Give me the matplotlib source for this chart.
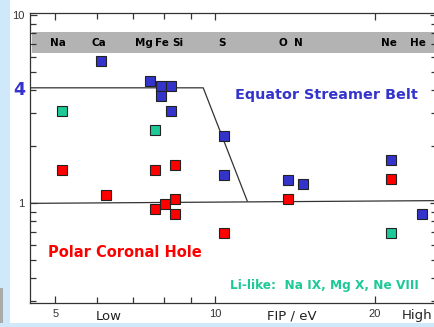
import matplotlib
matplotlib.use("Agg")
import matplotlib.pyplot as plt
from matplotlib.patches import Rectangle
from matplotlib.ticker import FixedLocator, NullFormatter, LogLocator
import matplotlib.transforms as mtransforms

# ---- data ----
blue_x = [6.10, 7.54, 7.91, 7.91, 8.26, 8.26, 10.40, 10.40, 13.72, 14.64, 21.5, 24.5]
blue_y = [5.69, 4.46, 4.19, 3.71, 4.19, 3.09, 2.27, 1.41, 1.33, 1.26, 1.69, 0.874]

red_x = [5.15, 6.23, 7.71, 8.41, 7.71, 8.05, 8.41, 8.41, 10.40, 13.72, 21.5]
red_y = [1.50, 1.107, 1.50, 1.59, 0.929, 0.99, 1.05, 0.874, 0.692, 1.05, 1.34]

green_x = [5.15, 7.71, 21.5]
green_y = [3.09, 2.44, 0.692]

upper_x = [4.48, 9.5, 11.5]
upper_y = [4.1, 4.1, 1.025]
lower_x = [4.48, 26.2]
lower_y = [0.996, 1.03]

elements = ["Na", "Ca", "Mg", "Fe", "Si", "S", "O", "N", "Ne", "He"]
element_x = [5.06, 6.05, 7.35, 7.95, 8.52, 10.3, 13.45, 14.35, 21.3, 24.1]

xtick_vals = [5, 10, 20]
xtick_labels = ["5", "10", "20"]
ytick_vals = [1, 10]
ytick_labels = ["1", "10"]

BLUE = "#3434cc"
RED = "#ff0000"
GREEN = "#1dc996"
LINE = "#333333"
PAGEBLUE = "#cfe9fb"

fig = plt.figure(figsize=(4.35, 3.27), dpi=100)
fig.patch.set_facecolor("white")
# light-blue page edges and grey edge block
fig.patches.append(Rectangle((0, 0), 10/435, 1, transform=fig.transFigure,
                             facecolor=PAGEBLUE, edgecolor="none", zorder=0))
fig.patches.append(Rectangle((0, 0), 1, 4/327, transform=fig.transFigure,
                             facecolor=PAGEBLUE, edgecolor="none", zorder=0))
fig.patches.append(Rectangle((0, 4/327), 3/435, 35/327, transform=fig.transFigure,
                             facecolor="#aaaaaa", edgecolor="none", zorder=0))

ax = fig.add_axes([30/435, 1 - 303/327, 407/435, 290/327])
ax.set_zorder(2)
ax.set_facecolor("white")
ax.set_xscale("log")
ax.set_yscale("log")
ax.set_xlim(4.48, 26.2)
ax.set_ylim(0.294, 10.25)

for s in ax.spines.values():
    s.set_color(LINE)
    s.set_linewidth(0.9)

ax.xaxis.set_major_locator(FixedLocator(xtick_vals))
ax.set_xticklabels(xtick_labels, fontfamily="Liberation Sans", fontsize=8, color="#333333")
ax.xaxis.set_minor_locator(LogLocator(base=10, subs=range(2, 10)))
ax.xaxis.set_minor_formatter(NullFormatter())
ax.yaxis.set_major_locator(FixedLocator(ytick_vals))
ax.set_yticklabels(ytick_labels, fontfamily="Liberation Sans", fontsize=8, color="#333333")
ax.yaxis.set_minor_locator(LogLocator(base=10, subs=range(2, 10)))
ax.yaxis.set_minor_formatter(NullFormatter())
ax.tick_params(which="both", direction="in", top=True, right=True, color=LINE, width=0.9)
ax.tick_params(which="major", length=5, pad=4)
ax.tick_params(which="minor", length=4)

# grey element band
ax.axhspan(6.28, 8.12, xmin=0.005, xmax=1.0, color="#b3b3b3", lw=0, zorder=1)
for name, xv in zip(elements, element_x):
    ax.text(xv, 7.14, name, ha="center", va="center", fontsize=7.5, fontweight="bold",
            color="black", fontfamily="DejaVu Sans", zorder=2)

# boundaries
ax.plot(upper_x, upper_y, color=LINE, lw=0.9, zorder=2)
ax.plot(lower_x, lower_y, color=LINE, lw=0.9, zorder=2)

# markers
for xs, ys, c in [(blue_x, blue_y, BLUE), (red_x, red_y, RED), (green_x, green_y, GREEN)]:
    ax.plot(xs, ys, ls="none", marker="s", markersize=7.2, markerfacecolor=c,
            markeredgecolor="#222222", markeredgewidth=0.8, zorder=3)

# annotations
ax.text(16.25, 3.75, "Equator Streamer Belt", ha="center", va="center", fontsize=10.4,
        fontweight="bold", color=BLUE, zorder=4)
ax.text(6.77, 0.549, "Polar Coronal Hole", ha="center", va="center", fontsize=10.5,
        fontweight="bold", color=RED, zorder=4)
ax.text(16.11, 0.366, "Li-like:  Na IX, Mg X, Ne VIII", ha="center", va="center", fontsize=8.7,
        fontweight="bold", color=GREEN, zorder=4)

# blue "4" label on y axis
ytr = mtransforms.blended_transform_factory(fig.transFigure, ax.transData)
fig.text(19/435, 4.0, "4", transform=ytr, ha="center", va="center", fontsize=12.5,
         fontweight="bold", color=BLUE)

# x-axis word labels
xtr = mtransforms.blended_transform_factory(ax.transData, fig.transFigure)
for lab, xv in [("Low", 6.31), ("FIP / eV", 13.96), ("High", 24.0)]:
    fig.text(xv, 1 - 316/327, lab, transform=xtr, ha="center", va="center",
             fontsize=9.5, color="#222222")

fig.savefig("out.png", dpi=100, facecolor=fig.get_facecolor())
